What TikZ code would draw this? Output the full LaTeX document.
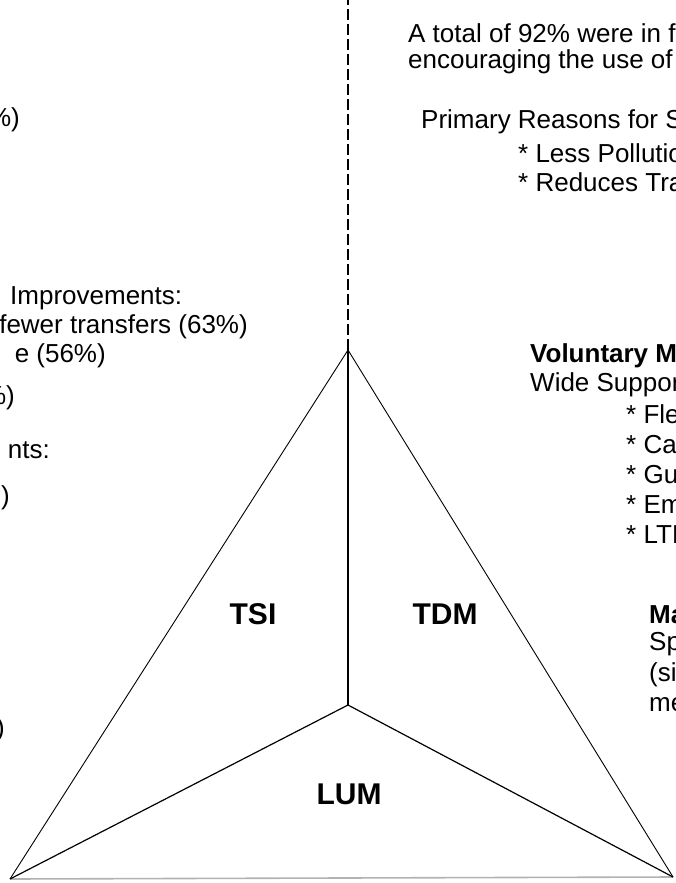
\documentclass[tikz,border=0pt]{standalone}
\usepackage{fontspec}
\setmainfont{Liberation Sans}
\begin{document}
\begin{tikzpicture}[x=1pt,y=-1pt,
  txt/.style={inner sep=0pt,anchor=west,font=\fontsize{26}{30}\selectfont},
  txtr/.style={inner sep=0pt,anchor=east,font=\fontsize{26}{30}\selectfont},
  hd/.style={txt,font=\fontsize{26}{30}\selectfont\bfseries},
  zone/.style={inner sep=0pt,font=\fontsize{30}{30}\selectfont\bfseries},
  edge/.style={line width=0.9pt},
  spoke/.style={line width=1.2pt},
  axis/.style={line width=1.4pt}]
\useasboundingbox (0,0) rectangle (676,883);
\clip (0,0) rectangle (676,883);

% triangle corners and centre
\coordinate (top) at (348,350);
\coordinate (bl) at (10,879);
\coordinate (br) at (673,877);
\coordinate (mid) at (348,705);
\coordinate (axisend) at (348,0);

% dashed divider above the apex
\draw[axis,dash pattern=on 11pt off 4pt] (top) -- (axisend);

% triangle and its three spokes
\draw[edge] (top) -- (bl);
\draw[edge] (top) -- (br);
\draw[line width=1.6pt,gray!60] (bl) -- (br);
\draw[axis] (top) -- (mid);
\draw[spoke] (mid) -- (bl);
\draw[spoke] (mid) -- (br);

% zone labels
\node[zone] (tsi) at (253,614) {TSI};
\node[zone] (tdm) at (445,614) {TDM};
\node[zone] (lum) at (349,794) {LUM};

% left column (runs off the left edge)
\node[txtr] (l1) at (20,120) {\%)};
\node[txt] (l2) at (10,298) {Improvements:};
\node[txtr] (l3) at (248,327) {fewer transfers (63\%)};
\node[txtr] (l4) at (106,356) {e (56\%)};
\node[txtr] (l5) at (15,398) {\%)};
\node[txtr] (l6) at (50,450) {nts:};
\node[txtr] (l7) at (10,498) {)};
\node[txtr] (l8) at (5,730) {)};

% right column (runs off the right edge)
\node[txt] (r1) at (408,33) {A total of 92\% were in f};
\node[txt] (r2) at (408,62) {encouraging the use of};
\node[txt] (r3) at (421,122) {Primary Reasons for S};
\node[txt] (r4) at (518,153) {* Less Pollutio};
\node[txt] (r5) at (518,182) {* Reduces Tra};
\node[hd] (r6) at (530,356) {Voluntary M};
\node[txt] (r7) at (530,385) {Wide Suppor};
\node[txt] (r8) at (626,414) {* Fle};
\node[txt] (r9) at (626,445) {* Ca};
\node[txt] (r10) at (626,475) {* Gu};
\node[txt] (r11) at (626,505) {* Em};
\node[txt] (r12) at (626,535) {* LTI};
\node[hd] (r13) at (649,615) {Ma};
\node[txt] (r14) at (649,644) {Sp};
\node[txt] (r15) at (649,675) {(si};
\node[txt] (r16) at (649,705) {me};
\end{tikzpicture}
\end{document}
